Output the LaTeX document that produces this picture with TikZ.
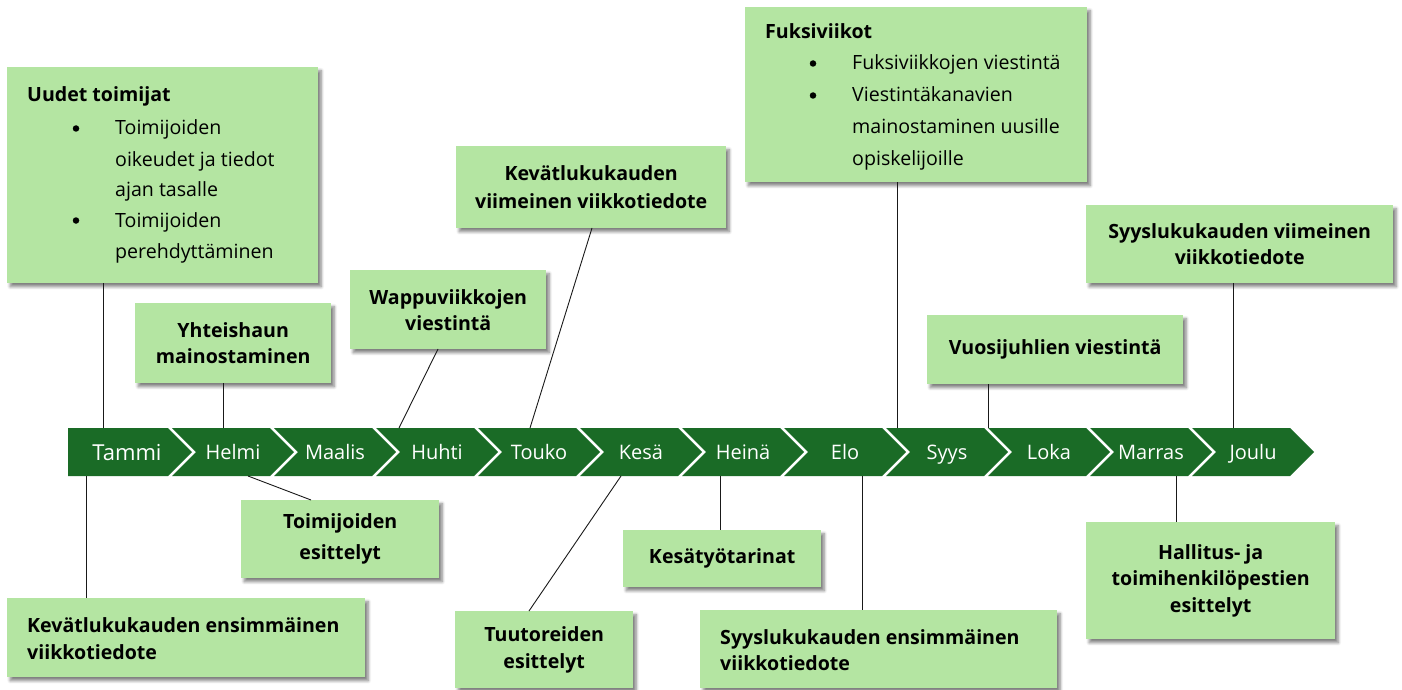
\documentclass[tikz,border=0pt]{standalone}
\usepackage{fontspec}
\setmainfont{Open Sans}
\usetikzlibrary{shadows.blur}
\definecolor{tlgreen}{RGB}{26,107,38}
\definecolor{boxgreen}{RGB}{180,229,162}
\definecolor{lnk}{RGB}{25,25,25}
\tikzset{
  evbox/.style={fill=boxgreen, inner sep=0pt, anchor=north west,
    blur shadow={shadow xshift=3pt, shadow yshift=-3.5pt, shadow blur steps=6,
      shadow opacity=50, shadow blur radius=3pt}},
  ctext/.style={align=center, font=\fontsize{19.6}{26}\selectfont\bfseries},
  ltext/.style={align=left, anchor=west, inner sep=0pt, font=\fontsize{19.6}{27}\selectfont\bfseries},
  rtext/.style={anchor=base west, inner sep=0pt, font=\fontsize{19.6}{24}\selectfont},
  ttext/.style={anchor=base west, inner sep=0pt, font=\fontsize{19.6}{24}\selectfont\bfseries},
  bul/.style={circle, fill=black, inner sep=0pt, minimum size=6.5pt},
  mlab/.style={anchor=base, inner sep=0pt, text=white, font=\fontsize{20}{24}\selectfont},
  seg/.style={fill=tlgreen},
  conn/.style={draw=lnk, line width=0.9pt}
}
\begin{document}
\begin{tikzpicture}[x=1pt,y=-1pt]
\useasboundingbox (0,0) rectangle (1402,690);

% timeline
\fill[seg] (68,428) -- (168,428) -- (192,452) -- (168,476) -- (68,476) -- cycle;
\foreach \i in {1,...,11}{
  \pgfmathsetmacro{\L}{70+102*\i}
  \pgfmathsetmacro{\R}{168+102*\i}
  \fill[seg] (\L,428) -- (\R,428) -- ({\R+24},452) -- (\R,476) -- (\L,476) -- ({\L+24},452) -- cycle;
}
\node[mlab, font=\fontsize{22}{24}\selectfont] (m1) at (127,460) {Tammi};
\node[mlab] (m2) at (233,459) {Helmi};
\node[mlab] (m3) at (335,459) {Maalis};
\node[mlab] (m4) at (437,459) {Huhti};
\node[mlab] (m5) at (539,459) {Touko};
\node[mlab] (m6) at (641,459) {Kesä};
\node[mlab] (m7) at (743,459) {Heinä};
\node[mlab] (m8) at (845,459) {Elo};
\node[mlab] (m9) at (947,459) {Syys};
\node[mlab] (m10) at (1049,459) {Loka};
\node[mlab] (m11) at (1151,459) {Marras};
\node[mlab] (m12) at (1253,459) {Joulu};

% attachment points on the timeline
\coordinate (t1) at (103,428);
\coordinate (t2) at (223,428);
\coordinate (t3) at (399,428);
\coordinate (t4) at (530,428);
\coordinate (t5) at (897,428);
\coordinate (t6) at (988,428);
\coordinate (t7) at (1233,428);
\coordinate (u1) at (86,476);
\coordinate (u2) at (248,476);
\coordinate (u3) at (621,476);
\coordinate (u4) at (720,476);
\coordinate (u5) at (862,476);
\coordinate (u6) at (1176,476);

% boxes above
\node[evbox, minimum width=311pt, minimum height=216pt] (b1) at (7,67) {};
\node[ttext] (b1h) at (27,102) {Uudet toimijat};
\node[bul] (b1p1) at (76,128.5) {};
\node[rtext] (b1l1) at (115,135) {Toimijoiden};
\node[rtext] (b1l2) at (115,166) {oikeudet ja tiedot};
\node[rtext] (b1l3) at (115,196) {ajan tasalle};
\node[bul] (b1p2) at (76,220.5) {};
\node[rtext] (b1l4) at (115,227) {Toimijoiden};
\node[rtext] (b1l5) at (115,258) {perehdyttäminen};

\node[evbox, minimum width=196pt, minimum height=80pt, ctext] (b2) at (135,303) {Yhteishaun\\mainostaminen};
\node[evbox, minimum width=196pt, minimum height=79pt, ctext] (b3) at (350,270) {Wappuviikkojen\\viestintä};
\node[evbox, minimum width=270pt, minimum height=82pt, ctext, font=\fontsize{19.6}{28}\selectfont\bfseries] (b4) at (456,146) {Kevätlukukauden\\viimeinen viikkotiedote};

\node[evbox, minimum width=342pt, minimum height=175pt] (b5) at (745,7) {};
\node[ttext] (b5h) at (765,39) {Fuksiviikot};
\node[bul] (b5p1) at (813,63.5) {};
\node[rtext] (b5l1) at (852,70) {Fuksiviikkojen viestintä};
\node[bul] (b5p2) at (813,95.5) {};
\node[rtext] (b5l2) at (852,102) {Viestintäkanavien};
\node[rtext] (b5l3) at (852,134) {mainostaminen uusille};
\node[rtext] (b5l4) at (852,165) {opiskelijoille};

\node[evbox, minimum width=307pt, minimum height=78pt, ctext] (b6) at (1086,205) {Syyslukukauden viimeinen\\viikkotiedote};
\node[evbox, minimum width=256pt, minimum height=69pt, ctext] (b7) at (927,315) {Vuosijuhlien viestintä};

% boxes below
\node[evbox, minimum width=198pt, minimum height=78pt, ctext, font=\fontsize{19.6}{31}\selectfont\bfseries] (b8) at (241,500) {Toimijoiden\\esittelyt};
\node[evbox, minimum width=358pt, minimum height=79pt] (b9) at (7,598) {};
\node[ltext] (b9t) at (27,638.5) {Kevätlukukauden ensimmäinen\\viikkotiedote};
\node[evbox, minimum width=178pt, minimum height=77pt, ctext, font=\fontsize{19.6}{27}\selectfont\bfseries] (b10) at (455,611) {Tuutoreiden\\esittelyt};
\node[evbox, minimum width=198pt, minimum height=57pt, ctext] (b11) at (623,530) {Kesätyötarinat};
\node[evbox, minimum width=357pt, minimum height=78pt] (b12) at (700,610) {};
\node[ltext, font=\fontsize{19.6}{26}\selectfont\bfseries] (b12t) at (720,650) {Syyslukukauden ensimmäinen\\viikkotiedote};
\node[evbox, minimum width=249pt, minimum height=117pt, ctext, font=\fontsize{19.6}{26.5}\selectfont\bfseries] (b13) at (1086,522) {Hallitus- ja\\toimihenkilöpestien\\esittelyt};

% box attachment points for slanted connectors
\coordinate (a3) at (438,349);
\coordinate (a4) at (592,228);
\coordinate (a8) at (311,500);
\coordinate (a10) at (529,611);

% connectors
\draw[conn] (b1.south -| t1) -- (t1);
\draw[conn] (b2.south -| t2) -- (t2);
\draw[conn] (a3) -- (t3);
\draw[conn] (a4) -- (t4);
\draw[conn] (b5.south -| t5) -- (t5);
\draw[conn] (b7.south -| t6) -- (t6);
\draw[conn] (b6.south -| t7) -- (t7);
\draw[conn] (u1) -- (b9.north -| u1);
\draw[conn] (u2) -- (a8);
\draw[conn] (u3) -- (a10);
\draw[conn] (u4) -- (b11.north -| u4);
\draw[conn] (u5) -- (b12.north -| u5);
\draw[conn] (u6) -- (b13.north -| u6);
\end{tikzpicture}
\end{document}
